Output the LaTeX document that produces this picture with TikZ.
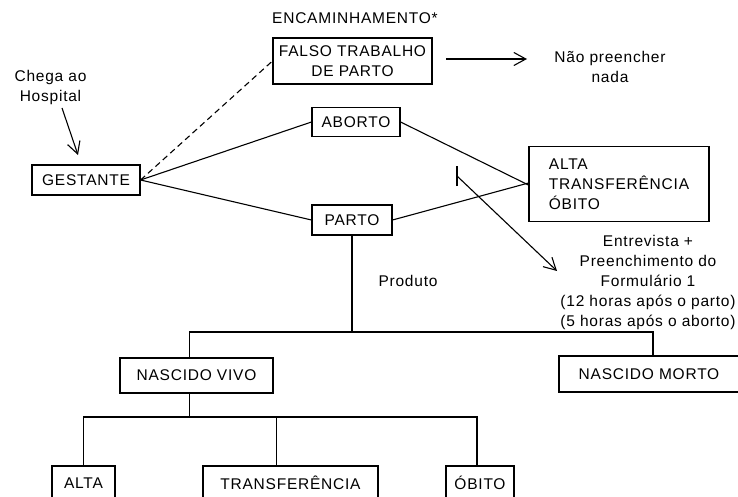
\documentclass[tikz,border=0pt]{standalone}
\usepackage{fontspec}
\setmainfont{Liberation Sans}[LetterSpace=5]
\usetikzlibrary{arrows.meta}
\tikzset{
  caixa/.style={draw, line width=1.1pt, inner sep=0pt},
  ligacao/.style={line width=1.1pt},
  ponta/.style={line width=1.1pt, -{Straight Barb[length=12pt,width=13pt,line width=1.1pt]}},
}
\begin{document}
\begin{tikzpicture}[x=1pt,y=-1pt,font=\fontsize{15.5}{20}\selectfont]
\useasboundingbox (0,0) rectangle (738,497);
\clip (0,0) rectangle (738,497);

\node (enc) at (355,18) {ENCAMINHAMENTO*};
\node[align=center] (chega) at (50.5,87) {Chega ao\\Hospital};
\node[align=center] (nao) at (610,66.5) {Não preencher\\nada};
\node (produto) at (408,281) {Produto};
\node[align=center] (entrevista) at (648,282) {Entrevista +\\Preenchimento do\\Formulário 1\\(12 horas após o parto)\\(5 horas após o aborto)};

\node[caixa, minimum width=159pt, minimum height=46pt, align=center] (falso) at (352.5,61) {FALSO TRABALHO\\DE PARTO};
\node[caixa, minimum width=88pt, minimum height=29pt] (aborto) at (356,122) {ABORTO};
\node[caixa, minimum width=80pt, minimum height=30pt] (parto) at (352,220) {PARTO};
\node[caixa, minimum width=108pt, minimum height=30pt] (gestante) at (86,180) {GESTANTE};
\node[caixa, minimum width=180pt, minimum height=75pt, align=left] (desfecho) at (619,184) {ALTA\\TRANSFERÊNCIA\\ÓBITO};
\node[caixa, minimum width=153pt, minimum height=35pt] (vivo) at (196.5,375.5) {NASCIDO VIVO};
\node[caixa, minimum width=180pt, minimum height=36pt] (morto) at (649,374) {NASCIDO MORTO};
\node[caixa, minimum width=63pt, minimum height=34pt] (alta) at (83.5,483) {ALTA};
\node[caixa, minimum width=175pt, minimum height=34pt] (transf) at (290.5,483) {TRANSFERÊNCIA};
\node[caixa, minimum width=68pt, minimum height=34pt] (obito) at (480,483) {ÓBITO};

\coordinate (chegaini) at (62,108); \coordinate (chegafim) at (78,155);
\coordinate (naoini) at (446,59); \coordinate (naofim) at (527,59);
\coordinate (marca) at (457,176); \coordinate (marcafim) at (557,271);
\coordinate (ramo) at (352,332); \coordinate (ramob) at (189.5,417);

% chegada e encaminhamento
\draw[ponta] (chegaini) -- (chegafim);
\draw[ligacao, dash pattern=on 6pt off 4pt] (gestante.east) -- (falso.west);
\draw[ligacao] (gestante.east) -- (aborto.west);
\draw[ligacao] (gestante.east) -- (parto.west);
\draw[ponta] (naoini) -- (naofim);
\draw[ligacao] (aborto.east) -- ([yshift=-1pt]desfecho.west);
\draw[ligacao] (parto.east) -- ([yshift=1pt]desfecho.west);
\draw[ligacao] ([yshift=-10pt]marca) -- ([yshift=10pt]marca);
\draw[ponta] (marca) -- (marcafim);

% produto
\draw[ligacao] (parto.south) -- (ramo);
\draw[ligacao] (ramo) -| ([xshift=-7pt]vivo.north);
\draw[ligacao] (ramo) -| ([xshift=4pt]morto.north);
\draw[ligacao] ([xshift=-7pt]vivo.south) -- (ramob);
\draw[ligacao] (ramob) -| (alta.north);
\draw[ligacao] (ramob) -| ([xshift=-14pt]transf.north);
\draw[ligacao] (ramob) -| ([xshift=-3pt]obito.north);
\end{tikzpicture}
\end{document}
